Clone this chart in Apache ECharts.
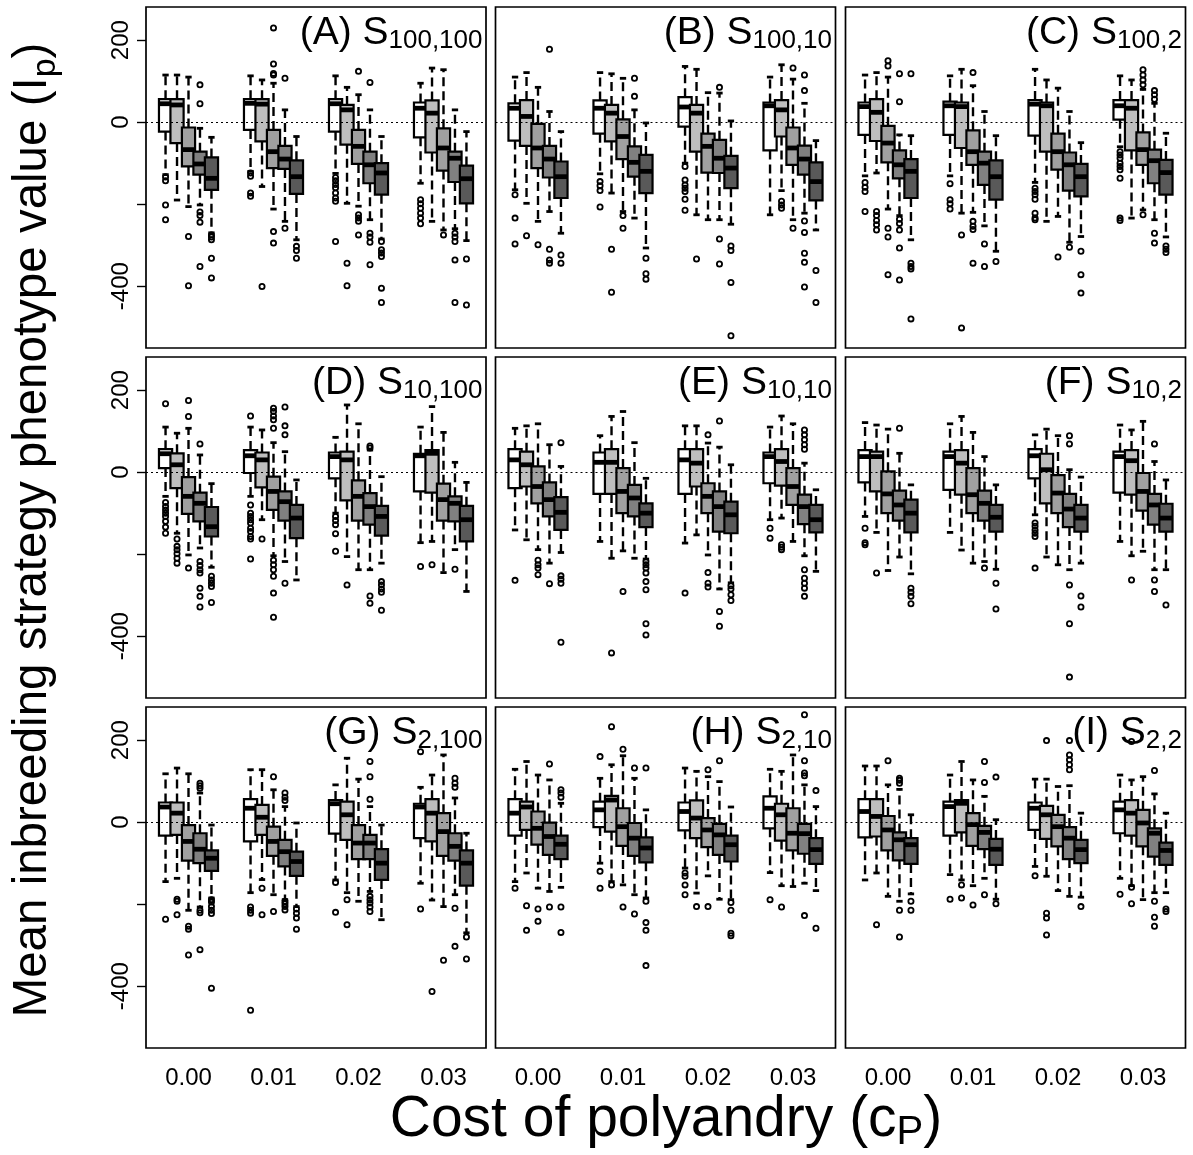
<!DOCTYPE html>
<html><head><meta charset="utf-8">
<script src="https://cdn.jsdelivr.net/npm/echarts@6/dist/echarts.min.js"></script>
<style>html,body{margin:0;padding:0;background:#fff}#c{width:1193px;height:1155px}</style>
</head><body><div id="c"></div>
<script>
// ---------- data ----------
const costLabels = ['0.00', '0.01', '0.02', '0.03'];
const panelTags = ['(A)', '(B)', '(C)', '(D)', '(E)', '(F)', '(G)', '(H)', '(I)'];
const panelSubs = ['100,100', '100,10', '100,2', '10,100', '10,10', '10,2', '2,100', '2,10', '2,2'];
const yTickValues = [-400, -200, 0, 200];
const yLabelValues = [-400, 0, 200];
const xTickValues = [1, 2, 3, 4];

// box stats per cost group, 5 boxes each: [low whisker, Q1, median, Q3, high whisker]
const boxA = [
  [[-128,-23,45,56,115],[-190,-51,42,56,115],[-206,-108,-67,-13,110],[-202,-128,-102,-72,-15],[-270,-165,-137,-86,-37]],
  [[-120,-19,46,56,113],[-157,-47,44,56,103],[-212,-112,-72,-19,95],[-242,-114,-90,-58,30],[-287,-175,-133,-93,-35]],
  [[-125,-23,45,56,113],[-198,-55,30,42,85],[-205,-102,-59,-19,67],[-238,-149,-104,-72,30],[-285,-177,-124,-100,-35]],
  [[-149,-37,34,48,95],[-242,-74,22,53,132],[-263,-118,-63,-15,128],[-260,-146,-88,-72,30],[-289,-198,-138,-106,-23]]
];
const boxB = [
  [[-165,-45,34,46,110],[-198,-58,14,54,121],[-242,-112,-63,-4,85],[-218,-135,-90,-58,26],[-271,-185,-133,-96,-23]],
  [[-126,-28,34,53,121],[-173,-47,22,42,118],[-218,-90,-35,7,107],[-234,-133,-98,-59,30],[-307,-173,-120,-80,-2]],
  [[-100,-11,37,61,136],[-226,-72,22,42,129],[-238,-123,-59,-28,72],[-238,-124,-88,-43,71],[-249,-161,-112,-82,3]],
  [[-226,-69,40,48,110],[-167,-35,30,54,140],[-238,-104,-63,-13,105],[-222,-128,-90,-57,46],[-263,-191,-145,-98,-45]]
];
const boxC = [
  [[-131,-31,38,48,115],[-124,-46,24,56,121],[-212,-98,-51,-9,110],[-228,-137,-104,-69,-31],[-287,-185,-120,-90,-33]],
  [[-131,-31,40,50,113],[-222,-63,38,48,129],[-220,-104,-72,-20,89],[-253,-153,-100,-72,26],[-315,-189,-133,-93,-33]],
  [[-147,-33,44,54,129],[-242,-72,40,48,103],[-230,-116,-72,-28,83],[-293,-167,-104,-74,26],[-279,-181,-133,-102,-50]],
  [[-60,6,40,54,113],[-234,-69,34,54,103],[-214,-104,-67,-25,80],[-238,-149,-94,-67,46],[-280,-177,-123,-92,-27]]
];
const boxD = [
  [[-59,10,45,56,110],[-149,-39,18,46,95],[-202,-102,-59,-12,107],[-185,-120,-76,-50,42],[-232,-157,-133,-85,-28]],
  [[-59,-2,40,54,110],[-116,-37,30,48,103],[-204,-92,-47,-11,72],[-218,-118,-72,-47,50],[-263,-161,-112,-80,-19]],
  [[-100,-15,38,48,85],[-206,-69,30,50,164],[-238,-118,-59,-20,118],[-238,-128,-84,-51,54],[-222,-155,-108,-82,-11]],
  [[-172,-47,40,45,110],[-169,-50,46,54,160],[-245,-118,-67,-28,97],[-189,-120,-76,-59,24],[-291,-169,-116,-82,-25]]
];
const boxE = [
  [[-141,-39,30,56,107],[-165,-35,18,50,113],[-189,-76,-35,14,118],[-222,-108,-67,-25,67],[-196,-141,-98,-61,14]],
  [[-169,-53,24,48,89],[-210,-53,24,56,136],[-192,-100,-47,10,148],[-210,-108,-63,-31,72],[-212,-134,-100,-76,-15]],
  [[-173,-53,30,56,113],[-153,-35,22,56,113],[-202,-100,-59,-27,71],[-285,-145,-84,-47,61],[-270,-149,-104,-72,18]],
  [[-116,-27,38,48,110],[-112,-33,26,56,137],[-169,-80,-35,10,118],[-204,-127,-84,-55,22],[-242,-147,-116,-80,-43]]
];
const boxF = [
  [[-108,-25,38,54,121],[-147,-47,38,50,115],[-240,-100,-53,2,105],[-207,-118,-80,-45,46],[-248,-147,-100,-67,-31]],
  [[-147,-43,38,50,118],[-190,-55,22,54,136],[-222,-100,-55,10,97],[-218,-118,-76,-45,38],[-237,-145,-110,-80,-31]],
  [[-104,-15,40,56,91],[-207,-76,6,45,105],[-226,-100,-51,-7,89],[-238,-134,-90,-53,6],[-222,-145,-112,-80,-12]],
  [[-169,-50,38,50,115],[-204,-55,28,54,103],[-193,-94,-47,-2,124],[-238,-128,-80,-53,26],[-238,-145,-112,-77,-19]]
];
const boxG = [
  [[-145,-33,37,48,118],[-137,-31,22,48,132],[-215,-94,-47,-7,118],[-207,-100,-66,-27,71],[-185,-119,-88,-69,-7]],
  [[-172,-47,34,56,128],[-140,-31,12,42,128],[-177,-82,-47,-11,79],[-189,-108,-72,-43,38],[-206,-131,-96,-72,-2]],
  [[-141,-28,45,54,91],[-172,-43,18,50,156],[-193,-90,-51,-7,105],[-169,-90,-51,-31,38],[-238,-141,-100,-66,-7]],
  [[-149,-39,37,45,85],[-190,-47,22,56,115],[-206,-82,-23,22,164],[-177,-94,-59,-27,59],[-270,-155,-100,-69,-27]]
];
const boxH = [
  [[-145,-33,22,56,129],[-124,-19,37,50,148],[-161,-55,-15,26,115],[-169,-80,-35,-1,103],[-159,-90,-54,-33,46]],
  [[-100,-12,30,50,107],[-145,-23,54,64,140],[-153,-58,-11,34,162],[-177,-82,-39,-2,107],[-185,-98,-63,-37,30]],
  [[-112,-20,26,48,132],[-173,-39,10,53,124],[-131,-61,-19,10,111],[-188,-80,-31,-4,99],[-189,-96,-55,-33,37]],
  [[-123,-15,34,63,129],[-155,-45,18,45,124],[-157,-69,-27,34,164],[-149,-77,-28,-4,91],[-167,-102,-67,-39,38]]
];
const boxI = [
  [[-141,-37,26,56,137],[-124,-35,14,56,137],[-181,-69,-19,15,91],[-193,-93,-43,-25,80],[-175,-102,-55,-39,18]],
  [[-128,-33,38,50,115],[-141,-25,46,54,148],[-155,-58,-6,22,103],[-137,-66,-25,-9,63],[-188,-104,-66,-41,6]],
  [[-108,-19,34,48,105],[-132,-41,18,40,105],[-167,-59,-11,18,87],[-181,-90,-39,-12,89],[-183,-100,-67,-43,22]],
  [[-137,-27,30,50,115],[-155,-33,22,54,103],[-189,-59,-2,30,111],[-172,-84,-27,-15,69],[-172,-104,-69,-50,22]]
];

// outliers per cost group, per box
const outA = [
  [[-134,-143,-202,-238],[],[-279,-399],[91,45,-219,-228,-244,-352],[-275,-280,-287,-332,-380]],
  [[-124,-132,-173,-181],[-401],[230,142,119,115,-267,-295],[107,-259],[-303,-313,-332]],
  [[-135,-143,-152,-160,-173,-185,-193,-291],[-344,-399],[124,-226,-234,-242,-275],[97,-271,-280,-293,-348],[-291,-311,-319,-328,-405,-440]],
  [[-189,-199,-210,-222,-234,-248],[],[-275],[-271,-280,-291,-336,-440],[-334,-446]]
];
const outB = [
  [[-177,-234,-297],[-277],[-299],[178,-310,-336,-344],[-324,-344]],
  [[-145,-155,-167,-207],[-310,-415],[-228,-259],[107,63],[-332,-370,-383]],
  [[-108,-141,-153,-161,-169,-188,-215],[-334],[],[85,-285,-346],[-302,-313,-391,-521]],
  [[],[-193,-202,-210],[132,-259],[115,77,-241,-269,-320,-342,-402],[-362,-440]]
];
const outC = [
  [[-147,-159,-169,-218],[-218,-228,-240,-250,-263],[150,137,-259,-280,-372],[118,50,-237,-247,-263,-307,-385],[118,-344,-352,-358,-480]],
  [[-150,-189,-199,-212],[-275,-502],[121,-242,-254,-262,-344],[-297,-352],[-340]],
  [[-161,-169,-177,-188,-222,-234,-238],[],[-329],[-305],[-315,-372,-417]],
  [[-72,-80,-88,-100,-108,-116,-137,-234,-240],[],[128,115,103,91,-226],[77,67,56,-271,-295],[-302,-310,-318]]
];
const outD = [
  [[167,-74,-84,-92,-100,-108,-120,-134,-149],[-163,-181,-189,-199,-210,-222],[175,136,-234],[69,-218,-228,-238,-246,-283,-303,-329],[-254,-263,-271,-279,-318]],
  [[137,-80,-100,-108,-116,-124,-137,-145,-157,-163,-212],[-163],[156,148,137,128,107,-215,-226,-238,-254,-295,-354],[159,113,91,-271],[]],
  [[-108,-118,-128,-150,-193],[-275],[],[64,59,-302,-320],[-267,-275,-285,-293,-337]],
  [[-230],[-226],[],[-237],[]]
];
const outE = [
  [[-264],[],[-215,-226,-234,-250],[-272],[72,-253,-261,-271,-415]],
  [[],[-441],[-291],[],[-218,-226,-234,-246,-267,-287,-370,-397]],
  [[-295],[],[91,-245,-271,-280],[125,-340,-376],[-277,-285,-299,-313]],
  [[-137,-161],[-177,-183,-189],[],[103,91,79,67,56,-238,-259,-271,-283,-303],[]]
];
const outF = [
  [[-137,-172,-177],[-246],[],[107],[-283,-293,-303,-321]],
  [[],[],[],[-234],[-271,-334]],
  [[-124,-132,-141,-149,-157,-234],[],[],[89,69,-275,-370,-500],[-302,-329]],
  [[],[-263],[],[69,-263,-291],[-324]]
];
const outG = [
  [[-237],[-188,-193,-226],[-254,-261,-324],[95,89,83,-215,-221,-311],[-189,-195,-206,-215,-223,-405]],
  [[-207,-215,-222,-459],[-161,-226],[111,-218],[71,61,53,-193,-199,-206,-214],[-212,-222,-234,-261]],
  [[-147,-220],[-189,-250],[],[148,111,56,-181,-189,-197,-207,-218],[]],
  [[172,-212],[-413],[-337],[107,95,85,-210,-303],[-280,-334]]
];
const outH = [
  [[-161],[-204,-264],[-212,-242],[142,-207],[79,71,61,-207,-269]],
  [[160,-120,-161],[233,-153],[178,-207],[132,-224],[132,-193,-245,-264,-350]],
  [[-124,-132,-153,-177],[-206],[128,-206],[150],[-196,-215,-271,-277]],
  [[-189],[-207],[],[262,150,120,113,-228],[77,-259]]
];
const outI = [
  [[],[-250],[150],[107,102,95,-215,-280],[-193,-215]],
  [[-188],[-153,-185],[-202],[148,97,-177],[110,-199]],
  [[-131],[199,-222,-234,-275],[],[199,164,152,140,128],[-206]],
  [[-176],[197,-159,-199],[],[126,-193,-232,-254],[-212,-218]]
];

const panelBoxes = [boxA, boxB, boxC, boxD, boxE, boxF, boxG, boxH, boxI];
const panelOutliers = [outA, outB, outC, outD, outE, outF, outG, outH, outI];

// ---------- layout / style ----------
const FONT = "'Liberation Sans', Arial, Helvetica, sans-serif";
const boxColors = ['#ffffff', '#bebebe', '#a0a0a0', '#808080', '#595959'];
const BOX_STEP = 0.135;   // spacing between boxes within a group (x units)
const BOX_W = 0.155;      // box width (x units)
const colLeft = [146, 495.5, 845.5];
const rowTop = [7, 357, 707];
const PW = 340, PH = 341;
const Y_MIN = -551, Y_MAX = 281;

function renderBox(params, api) {
  const x = api.value(0);
  const pts = [1, 2, 3, 4, 5].map(i => api.coord([x, api.value(i)]));
  const cx = pts[0][0];
  const yLow = pts[0][1], yQ1 = pts[1][1], yMed = pts[2][1], yQ3 = pts[3][1], yHigh = pts[4][1];
  const hw = api.size([BOX_W, 0])[0] / 2;
  const cap = hw * 0.48;
  const fill = boxColors[api.value(6)];
  const dash = { stroke: '#000', lineWidth: 2.4, lineDash: [9, 5], fill: null };
  const solid = { stroke: '#000', lineWidth: 2.8, fill: null };
  return {
    type: 'group',
    children: [
      { type: 'line', shape: { x1: cx, y1: yQ3, x2: cx, y2: yHigh }, style: dash },
      { type: 'line', shape: { x1: cx, y1: yQ1, x2: cx, y2: yLow }, style: dash },
      { type: 'line', shape: { x1: cx - cap, y1: yHigh, x2: cx + cap, y2: yHigh }, style: solid },
      { type: 'line', shape: { x1: cx - cap, y1: yLow, x2: cx + cap, y2: yLow }, style: solid },
      { type: 'rect', shape: { x: cx - hw, y: yQ3, width: 2 * hw, height: yQ1 - yQ3 },
        style: { fill: fill, stroke: '#000', lineWidth: 2.2 } },
      { type: 'line', shape: { x1: cx - hw, y1: yMed, x2: cx + hw, y2: yMed },
        style: { stroke: '#000', lineWidth: 4.8 } }
    ]
  };
}

const grids = [], xAxes = [], yAxes = [], series = [], titles = [];
for (let p = 0; p < 9; p++) {
  const r = Math.floor(p / 3), c = p % 3;
  grids.push({ left: colLeft[c], top: rowTop[r], width: PW, height: PH, show: true,
    borderColor: '#000', borderWidth: 1.7, backgroundColor: 'transparent',
    containLabel: false, outerBoundsMode: 'none' });
  xAxes.push({
    gridIndex: p, type: 'value', min: 0.5, max: 4.5,
    axisLine: { show: false }, splitLine: { show: false },
    axisTick: { show: r === 2, customValues: xTickValues, length: 9, lineStyle: { color: '#000', width: 1.4 } },
    axisLabel: { show: r === 2, customValues: xTickValues, margin: 18, fontSize: 24, color: '#000', fontFamily: FONT,
      formatter: v => costLabels[Math.round(v) - 1] }
  });
  yAxes.push({
    gridIndex: p, type: 'value', min: Y_MIN, max: Y_MAX,
    axisLine: { show: false }, splitLine: { show: false },
    axisTick: { show: c === 0, customValues: yTickValues, length: 9, lineStyle: { color: '#000', width: 1.4 } },
    axisLabel: { show: c === 0, customValues: yLabelValues, rotate: 90, margin: 13, fontSize: 24, color: '#000', fontFamily: FONT }
  });

  const boxData = [];
  const outData = [];
  panelBoxes[p].forEach((group, g) => {
    group.forEach((s, b) => {
      const x = g + 1 + (b - 2) * BOX_STEP;
      boxData.push([x, s[0], s[1], s[2], s[3], s[4], b]);
      panelOutliers[p][g][b].forEach(v => outData.push([x, v]));
    });
  });
  series.push({
    type: 'custom', xAxisIndex: p, yAxisIndex: p, z: 2, clip: false,
    renderItem: renderBox, encode: { x: 0, y: [1, 2, 3, 4, 5] }, data: boxData, silent: true
  });
  series.push({
    type: 'scatter', xAxisIndex: p, yAxisIndex: p, z: 3, symbol: 'circle', symbolSize: 5.2,
    itemStyle: { color: 'rgba(0,0,0,0)', borderColor: '#000', borderWidth: 1.8, opacity: 1 },
    data: outData, silent: true,
    markLine: { silent: true, symbol: 'none', label: { show: false },
      lineStyle: { type: [2, 3], color: '#000', width: 1 }, data: [{ yAxis: 0 }] }
  });
  titles.push({
    text: '{m|' + panelTags[p] + ' S}{s|' + panelSubs[p] + '}',
    right: 1193 - (colLeft[c] + PW) + 3.5, top: rowTop[r] + 7, padding: 0,
    textStyle: { fontWeight: 'normal', rich: {
      m: { fontSize: 39, fontWeight: 'normal', fontFamily: FONT, color: '#000', verticalAlign: 'bottom', padding: [0, 0, 1, 0] },
      s: { fontSize: 26, fontWeight: 'normal', fontFamily: FONT, color: '#000', verticalAlign: 'bottom' }
    } }
  });
}

const chart = echarts.init(document.getElementById('c'), null, { renderer: 'canvas' });
chart.setOption({
  animation: false,
  backgroundColor: '#fff',
  title: titles,
  grid: grids, xAxis: xAxes, yAxis: yAxes, series: series,
  graphic: [
    { type: 'text', x: 36, y: 530, rotation: Math.PI / 2,
      style: { text: '{a|Mean inbreeding strategy phenotype value (I}{b|p}{a|)}',
        align: 'center', verticalAlign: 'middle',
        rich: { a: { fontSize: 47.5, fontFamily: FONT, fill: '#000', verticalAlign: 'bottom', padding: [0, 0, 6, 0] },
                b: { fontSize: 34, fontFamily: FONT, fill: '#000', verticalAlign: 'bottom' } } } },
    { type: 'text', x: 666, y: 1122,
      style: { text: '{a|Cost of polyandry (c}{b|P}{a|)}',
        align: 'center', verticalAlign: 'middle',
        rich: { a: { fontSize: 57, fontFamily: FONT, fill: '#000', verticalAlign: 'bottom', padding: [0, 0, 4, 0] },
                b: { fontSize: 40, fontFamily: FONT, fill: '#000', verticalAlign: 'bottom' } } } }
  ]
});
</script>
</body></html>
